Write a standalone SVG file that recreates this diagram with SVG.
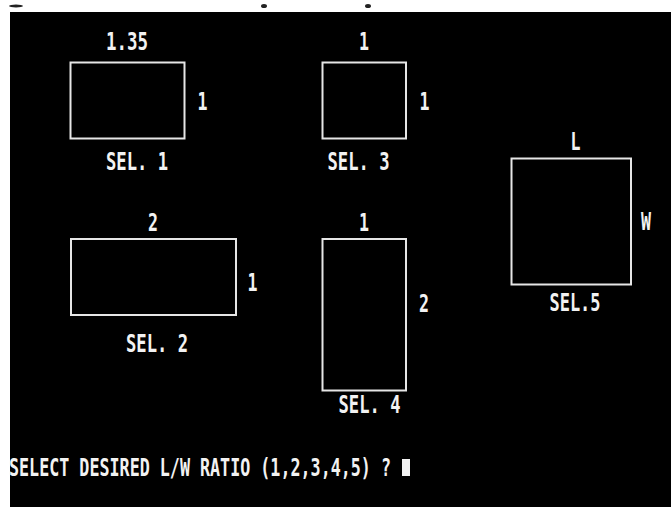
<svg xmlns="http://www.w3.org/2000/svg" width="671" height="507" viewBox="0 0 671 507">
<style>
.box{fill:#000;stroke:#e6e6e6;stroke-width:2}
.t{font-family:"DejaVu Sans Mono","Liberation Mono",monospace;font-weight:bold;font-size:24px;fill:#f2f2f2;text-anchor:middle}
.p{font-family:"DejaVu Sans Mono","Liberation Mono",monospace;font-weight:bold;font-size:24px;fill:#f2f2f2}
</style>
<rect x="0" y="0" width="671" height="507" fill="#fff"/>
<rect x="10" y="12" width="661" height="495" fill="#000"/>
<g id="top-fragments" fill="#222">
<ellipse cx="16" cy="6" rx="7" ry="1.5"/>
<ellipse cx="264" cy="6" rx="3" ry="2"/>
<ellipse cx="368" cy="6" rx="3" ry="2"/>
</g>
<g id="sel1">
<rect class="box" x="70.5" y="62.5" width="114" height="76"/>
<text class="t" x="127" y="49.5" textLength="42" lengthAdjust="spacingAndGlyphs">1.35</text>
<text class="t" x="202.5" y="109.5" textLength="10" lengthAdjust="spacingAndGlyphs">1</text>
<text class="t" x="137" y="170" textLength="62" lengthAdjust="spacingAndGlyphs">SEL. 1</text>
</g>
<g id="sel3">
<rect class="box" x="322.5" y="62.5" width="83.5" height="76"/>
<text class="t" x="364" y="49.5" textLength="10" lengthAdjust="spacingAndGlyphs">1</text>
<text class="t" x="424.5" y="110" textLength="10" lengthAdjust="spacingAndGlyphs">1</text>
<text class="t" x="358.5" y="170" textLength="62" lengthAdjust="spacingAndGlyphs">SEL. 3</text>
</g>
<g id="sel5">
<rect class="box" x="511.5" y="158.5" width="119.5" height="126"/>
<text class="t" x="575.5" y="150" textLength="10" lengthAdjust="spacingAndGlyphs">L</text>
<text class="t" x="646" y="230" textLength="10" lengthAdjust="spacingAndGlyphs">W</text>
<text class="t" x="575" y="311" textLength="51" lengthAdjust="spacingAndGlyphs">SEL.5</text>
</g>
<g id="sel2">
<rect class="box" x="71" y="239" width="165" height="76"/>
<text class="t" x="153" y="230.5" textLength="10" lengthAdjust="spacingAndGlyphs">2</text>
<text class="t" x="252.5" y="290.5" textLength="10" lengthAdjust="spacingAndGlyphs">1</text>
<text class="t" x="157" y="351.5" textLength="62" lengthAdjust="spacingAndGlyphs">SEL. 2</text>
</g>
<g id="sel4">
<rect class="box" x="322.5" y="239" width="83.5" height="151.5"/>
<text class="t" x="364" y="230.5" textLength="10" lengthAdjust="spacingAndGlyphs">1</text>
<text class="t" x="424" y="311.5" textLength="10" lengthAdjust="spacingAndGlyphs">2</text>
<text class="t" x="369.5" y="412.5" textLength="62" lengthAdjust="spacingAndGlyphs">SEL. 4</text>
</g>
<g id="prompt">
<text class="p" x="9" y="475.5" textLength="382" lengthAdjust="spacingAndGlyphs">SELECT DESIRED L/W RATIO (1,2,3,4,5) ?</text>
<rect x="402" y="459" width="8" height="17" fill="#f2f2f2"/>
</g>
<g id="connectors"/>
</svg>
